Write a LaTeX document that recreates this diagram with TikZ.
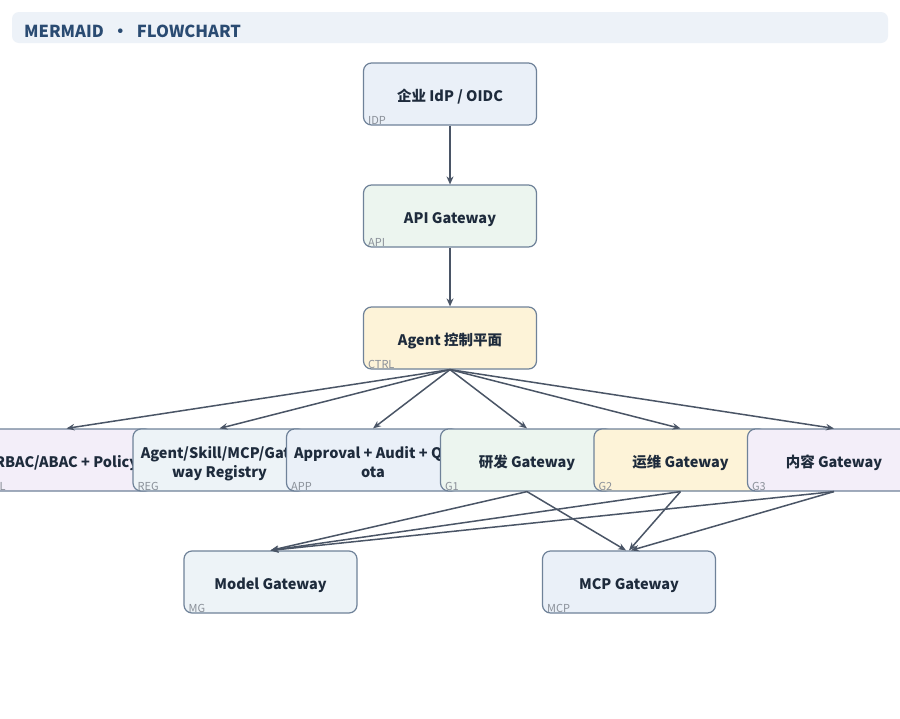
\documentclass[tikz,border=0pt]{standalone}
\usepackage{fontspec}
\setmainfont{Noto Sans CJK SC}
\usetikzlibrary{arrows.meta}
\definecolor{hdrfill}{HTML}{EDF2F8}
\definecolor{hdrtext}{HTML}{2A4B72}
\definecolor{nodetext}{HTML}{1E2B3C}
\definecolor{border}{HTML}{6F8299}
\definecolor{edge}{HTML}{4A5566}
\definecolor{tagtext}{HTML}{8A9099}
\definecolor{fblue}{HTML}{EAF0F8}
\definecolor{fgreen}{HTML}{ECF5EF}
\definecolor{fyellow}{HTML}{FDF3D8}
\definecolor{fpurple}{HTML}{F3EEF9}
\definecolor{fgray}{HTML}{EDF3F7}
\tikzset{
  box/.style={draw=border, line width=1.2pt, rounded corners=8pt,
    minimum width=173pt, minimum height=62pt, inner sep=0pt,
    text height=14pt, text depth=0pt,
    text=nodetext, font=\bfseries\fontsize{14.5}{19}\selectfont},
  twoline/.style={text height=0pt, text depth=4pt},
  tag/.style={anchor=base west, inner sep=0pt, text=tagtext,
    font=\fontsize{11}{12}\selectfont},
  conn/.style={draw=edge, line width=1.8pt, -{Stealth[length=8pt,width=7pt]}},
  thin conn/.style={draw=edge, line width=1.5pt, -{Stealth[length=8pt,width=6.5pt]}}
}
\begin{document}
\begin{tikzpicture}[x=1pt,y=-1pt]
\useasboundingbox (0,0) rectangle (900,718);
\fill[white] (0,0) rectangle (900,718);
\node[fill=hdrfill, rounded corners=7pt, minimum width=876pt, minimum height=31pt, inner sep=0pt] (hdr) at (450,27.5) {};
\node[anchor=base west, inner sep=0pt, text=hdrtext, font=\bfseries\fontsize{16.5}{18}\selectfont] (hdrt) at (24,37.5) {MERMAID\enspace•\enspace FLOWCHART};

\node[box, fill=fblue] (idp) at (450,94) {企业 IdP / OIDC};
\node[tag] (tidp) at ([xshift=5pt,yshift=1.5pt]idp.south west) {IDP};
\node[box, fill=fgreen] (api) at (450,216) {API Gateway};
\node[tag] (tapi) at ([xshift=5pt,yshift=1.5pt]api.south west) {API};
\node[box, fill=fyellow] (ctrl) at (450,338) {Agent 控制平面};
\node[tag] (tctrl) at ([xshift=5pt,yshift=1.5pt]ctrl.south west) {CTRL};

\node[box, fill=fpurple] (pol) at (66.5,460) {RBAC/ABAC + Policy};
\node[tag] (tpol) at ([xshift=5pt,yshift=1.5pt]pol.south west) {POL};
\node[box, twoline, fill=fgray] (reg) at (219.5,460) {\begin{tabular}[t]{@{}c@{}}Agent/Skill/MCP/Gate\\way Registry\end{tabular}};
\node[tag] (treg) at ([xshift=5pt,yshift=1.5pt]reg.south west) {REG};
\node[box, twoline, fill=fblue] (app) at (373,460) {\begin{tabular}[t]{@{}c@{}}Approval + Audit + Qu\\ota\end{tabular}};
\node[tag] (tapp) at ([xshift=5pt,yshift=1.5pt]app.south west) {APP};
\node[box, fill=fgreen] (g1) at (527,460) {研发 Gateway};
\node[tag] (tg1) at ([xshift=5pt,yshift=1.5pt]g1.south west) {G1};
\node[box, fill=fyellow] (g2) at (680.5,460) {运维 Gateway};
\node[tag] (tg2) at ([xshift=5pt,yshift=1.5pt]g2.south west) {G2};
\node[box, fill=fpurple] (g3) at (834,460) {内容 Gateway};
\node[tag] (tg3) at ([xshift=5pt,yshift=1.5pt]g3.south west) {G3};

\node[box, fill=fgray] (mg) at (270.5,582) {Model Gateway};
\node[tag] (tmg) at ([xshift=5pt,yshift=1.5pt]mg.south west) {MG};
\node[box, fill=fblue] (mcp) at (629,582) {MCP Gateway};
\node[tag] (tmcp) at ([xshift=5pt,yshift=1.5pt]mcp.south west) {MCP};

\draw[conn] (idp.south) -- (api.north);
\draw[conn] (api.south) -- (ctrl.north);
\foreach \t in {pol,reg,app,g1,g2,g3}
  \draw[thin conn] (ctrl.south) -- (\t.north);
\foreach \s in {g1,g2,g3} {
  \draw[thin conn] (\s.south) -- (mg.north);
}
\draw[thin conn] (g1.south) -- ([xshift=-3pt]mcp.north);
\draw[thin conn] (g2.south) -- (mcp.north);
\draw[thin conn] (g3.south) -- ([xshift=2pt]mcp.north);
\end{tikzpicture}
\end{document}
